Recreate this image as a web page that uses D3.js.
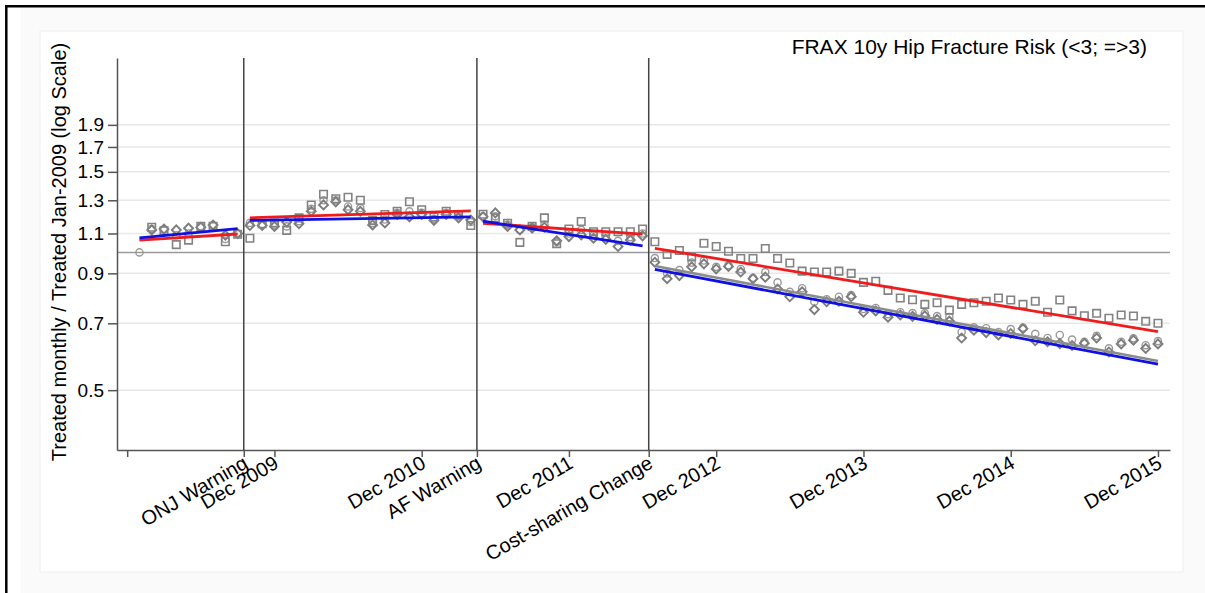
<!DOCTYPE html>
<html>
<head>
<meta charset="utf-8">
<script src="https://cdn.jsdelivr.net/npm/d3@7"></script>
<style>
  body { margin: 0; background: #fff; }
  svg { display: block; font-family: 'Liberation Sans', Arial, Helvetica, sans-serif; }
</style>
</head>
<body>
<script>
// month index: 0 = Jan 2009 ... 83 = Dec 2015
const months = d3.range(84);

// FRAX < 3 (squares), first month is the baseline and not drawn
const squares = [
  null, 1.135, 1.115, 1.04, 1.064, 1.14, 1.14, 1.055, 1.096,
  1.074, 1.155, 1.16, 1.117, 1.19, 1.27, 1.34, 1.31, 1.32, 1.30, 1.175, 1.21, 1.23, 1.29, 1.24, 1.195, 1.23, 1.21, 1.145,
  1.212, 1.19, 1.158, 1.052, 1.14, 1.19, 1.045, 1.125, 1.168, 1.11, 1.11, 1.11, 1.11, 1.125,
  1.055, 0.99, 1.01, 0.977, 1.047, 1.03, 1.006, 0.97, 0.97, 1.02, 0.97, 0.948, 0.91, 0.906, 0.906, 0.91, 0.90, 0.86,
  0.865, 0.826, 0.795, 0.788, 0.77, 0.776, 0.748, 0.77, 0.776, 0.782, 0.795, 0.787, 0.77, 0.782, 0.74, 0.787,
  0.745, 0.727, 0.736, 0.718, 0.73, 0.726, 0.707, 0.70
];

// FRAX >= 3 (diamonds)
const diamonds = [
  null, 1.12, 1.125, 1.12, 1.13, 1.135, 1.148, 1.09, 1.10,
  1.145, 1.145, 1.14, 1.165, 1.155, 1.23, 1.27, 1.29, 1.24, 1.23, 1.148, 1.16, 1.21, 1.196, 1.21, 1.175, 1.21, 1.19, 1.177,
  1.196, 1.22, 1.14, 1.12, 1.13, 1.135, 1.06, 1.083, 1.092, 1.074, 1.068, 1.03, 1.064, 1.087,
  0.952, 0.876, 0.89, 0.93, 0.944, 0.92, 0.932, 0.906, 0.876, 0.883, 0.832, 0.80, 0.82, 0.75, 0.78, 0.782, 0.80, 0.74,
  0.745, 0.722, 0.73, 0.725, 0.727, 0.714, 0.708, 0.65, 0.676, 0.668, 0.66, 0.665, 0.681, 0.641, 0.638, 0.632,
  0.626, 0.633, 0.65, 0.606, 0.631, 0.643, 0.617, 0.631
];

// overall (circles)
const circles = [
  1.0, 1.125, 1.12, 1.09, 1.10, 1.137, 1.145, 1.07, 1.098,
  1.16, 1.15, 1.15, 1.14, 1.17, 1.245, 1.30, 1.30, 1.26, 1.25, 1.16, 1.18, 1.22, 1.23, 1.22, 1.185, 1.22, 1.20, 1.165,
  1.20, 1.20, 1.15, 1.12, 1.135, 1.15, 1.055, 1.10, 1.12, 1.09, 1.085, 1.06, 1.08, 1.10,
  0.972, 0.90, 0.915, 0.95, 0.96, 0.93, 0.938, 0.92, 0.88, 0.906, 0.86, 0.82, 0.835, 0.78, 0.79, 0.80, 0.807, 0.752,
  0.756, 0.733, 0.74, 0.737, 0.737, 0.726, 0.722, 0.67, 0.686, 0.683, 0.67, 0.68, 0.685, 0.664, 0.65, 0.66,
  0.645, 0.638, 0.657, 0.617, 0.638, 0.649, 0.627, 0.64
];

// segment fits: [start month, start value, end month, end value]
const grayFit = [[42, 0.934, 83, 0.579]];
const redFit = [[0, 1.064, 8, 1.097], [9, 1.19, 27, 1.232], [28, 1.158, 41, 1.096], [42, 1.021, 83, 0.671]];
const blueFit = [[0, 1.076, 8, 1.127], [9, 1.175, 27, 1.196], [28, 1.17, 41, 1.033], [42, 0.918, 83, 0.570]];

const eventMonths = [8.5, 27.5, 41.5];
const eventLabels = ['ONJ Warning', 'AF Warning', 'Cost-sharing Change'];

const tickMonths = [-1, 11, 23, 35, 47, 59, 71, 83];
const tickLabels = ['', 'Dec 2009', 'Dec 2010', 'Dec 2011', 'Dec 2012', 'Dec 2013', 'Dec 2014', 'Dec 2015'];

const yTicks = [0.5, 0.7, 0.9, 1.1, 1.3, 1.5, 1.7, 1.9];

const width = 1205;
const height = 593;
const plot = { left: 117, right: 1170, top: 58, bottom: 450 };
const font = "'Liberation Sans', Arial, Helvetica, sans-serif";

const svg = d3.select('body')
  .append('svg')
  .attr('width', width)
  .attr('height', height);

// graph region and plot region
svg.append('rect')
  .attr('x', 21).attr('y', 7)
  .attr('width', width - 21).attr('height', height - 7)
  .attr('fill', '#fafafa');

svg.append('rect')
  .attr('x', 40).attr('y', 31)
  .attr('width', 1143).attr('height', 541)
  .attr('fill', '#fff')
  .attr('stroke', '#eeeeee');

svg.append('line')
  .attr('x1', 5).attr('x2', width).attr('y1', 6.3).attr('y2', 6.3)
  .attr('stroke', '#000').attr('stroke-width', 2.5);
svg.append('line')
  .attr('x1', 6.3).attr('x2', 6.3).attr('y1', 5).attr('y2', height)
  .attr('stroke', '#000').attr('stroke-width', 2.5);

const xScale = d3.scaleLinear()
  .domain([-1.83, 83.98])
  .range([plot.left, plot.right]);

const yScale = d3.scaleLog()
  .domain([0.37, 2.66])
  .range([plot.bottom, plot.top]);

// gridlines
svg.append('g')
  .selectAll('line')
  .data(yTicks)
  .enter()
  .append('line')
  .attr('x1', plot.left)
  .attr('x2', plot.right)
  .attr('y1', (d) => yScale(d))
  .attr('y2', (d) => yScale(d))
  .attr('stroke', '#e8e8e8')
  .attr('stroke-width', 1.5);

svg.append('line')
  .attr('x1', plot.left)
  .attr('x2', plot.right)
  .attr('y1', yScale(1))
  .attr('y2', yScale(1))
  .attr('stroke', '#9a9a9a')
  .attr('stroke-width', 1.5);

// y axis
const yAxis = d3.axisLeft(yScale)
  .tickValues(yTicks)
  .tickFormat(d3.format('.1f'))
  .tickSize(9)
  .tickPadding(4)
  .tickSizeOuter(0);

const yAxisG = svg.append('g')
  .attr('transform', 'translate(' + plot.left + ',0)')
  .call(yAxis);

yAxisG.select('.domain').attr('stroke', '#555').attr('stroke-width', 1.5);
yAxisG.selectAll('.tick line').attr('stroke', '#555').attr('stroke-width', 1.5);
yAxisG.selectAll('.tick text')
  .style('font-size', '19px')
  .style('font-family', font)
  .attr('fill', '#000');

svg.append('text')
  .attr('transform', 'translate(66,' + 252 + ') rotate(-90)')
  .style('text-anchor', 'middle')
  .style('font-size', '20px')
  .text('Treated monthly / Treated Jan-2009 (log Scale)');

// x axis
const xAxis = d3.axisBottom(xScale)
  .tickValues(tickMonths.concat(eventMonths))
  .tickFormat((d) => {
    const i = tickMonths.indexOf(d);
    return i >= 0 ? tickLabels[i] : eventLabels[eventMonths.indexOf(d)];
  })
  .tickSize(7)
  .tickSizeOuter(0);

const xAxisG = svg.append('g')
  .attr('transform', 'translate(0,' + plot.bottom + ')')
  .call(xAxis);

xAxisG.select('.domain').attr('stroke', '#555').attr('stroke-width', 1.5);
xAxisG.selectAll('.tick line').attr('stroke', '#555').attr('stroke-width', 1.5);
xAxisG.selectAll('.tick text')
  .style('font-size', '20px')
  .style('font-family', font)
  .attr('fill', '#000')
  .style('text-anchor', 'end')
  .attr('dy', null)
  .attr('y', 0)
  .attr('transform', 'translate(5,17) rotate(-30)');

// event lines
svg.append('g')
  .selectAll('line')
  .data(eventMonths)
  .enter()
  .append('line')
  .attr('x1', (d) => xScale(d))
  .attr('x2', (d) => xScale(d))
  .attr('y1', plot.top)
  .attr('y2', plot.bottom)
  .attr('stroke', '#444')
  .attr('stroke-width', 1.5);

// markers
const markers = svg.append('g');

markers.selectAll('circle')
  .data(months)
  .enter()
  .append('circle')
  .attr('cx', (d) => xScale(d))
  .attr('cy', (d) => yScale(circles[d]))
  .attr('r', 3.6)
  .attr('fill', 'none')
  .attr('stroke', '#9a9a9a')
  .attr('stroke-width', 1.4);

markers.selectAll('path.diamond')
  .data(months.filter((d) => diamonds[d] !== null))
  .enter()
  .append('path')
  .attr('class', 'diamond')
  .attr('d', d3.symbol().type(d3.symbolSquare).size(40))
  .attr('transform', (d) => 'translate(' + xScale(d) + ',' + yScale(diamonds[d]) + ') rotate(45)')
  .attr('fill', 'none')
  .attr('stroke', '#7d7d7d')
  .attr('stroke-width', 1.9);

markers.selectAll('path.square')
  .data(months.filter((d) => squares[d] !== null))
  .enter()
  .append('path')
  .attr('class', 'square')
  .attr('d', d3.symbol().type(d3.symbolSquare).size(56))
  .attr('transform', (d) => 'translate(' + xScale(d) + ',' + yScale(squares[d]) + ')')
  .attr('fill', 'none')
  .attr('stroke', '#838383')
  .attr('stroke-width', 1.6);

// fitted lines
const drawFits = (fits, color, w) => {
  svg.append('g')
    .selectAll('line')
    .data(fits)
    .enter()
    .append('line')
    .attr('x1', (d) => xScale(d[0]))
    .attr('y1', (d) => yScale(d[1]))
    .attr('x2', (d) => xScale(d[2]))
    .attr('y2', (d) => yScale(d[3]))
    .attr('stroke', color)
    .attr('stroke-width', w);
};

drawFits(grayFit, '#8c8c8c', 2.6);
drawFits(redFit, '#ee1c1c', 2.8);
drawFits(blueFit, '#1010e0', 2.8);

svg.append('text')
  .attr('x', 1147)
  .attr('y', 54)
  .style('text-anchor', 'end')
  .style('font-size', '21px')
  .text('FRAX 10y Hip Fracture Risk (<3; =>3)');
</script>
</body>
</html>
